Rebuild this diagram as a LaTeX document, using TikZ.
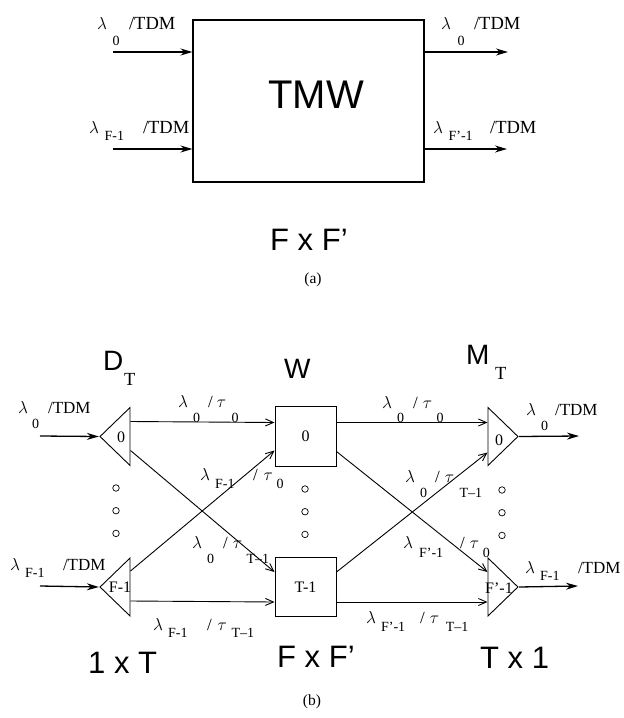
\documentclass[tikz,border=0pt]{standalone}
\usepackage{fontspec}
\setmainfont{Liberation Serif}
\newfontfamily\headfont{Liberation Sans}
\usetikzlibrary{arrows.meta,positioning,shapes.geometric}
\newcommand{\lam}{$\lambda$}
\newcommand{\slashtau}[1]{/\kern#1pt$\tau$}
\newcommand{\low}[2]{\raisebox{-#1pt}{\fontsize{14}{14}\selectfont #2}}

\begin{document}
\begin{tikzpicture}[
    x=1pt,
    y=-1pt,
    box/.style={
        rectangle,
        draw=black,
        line width=1pt,
        inner sep=0pt,
        minimum width=61pt,
        minimum height=59.5pt,
        font=\fontsize{16}{18}\selectfont
    },
    demux/.style={
        isosceles triangle,
        isosceles triangle stretches,
        shape border rotate=180,
        draw=black,
        line width=0.9pt,
        inner sep=0pt,
        minimum width=58pt,
        minimum height=30pt
    },
    mux/.style={
        demux,
        shape border rotate=0
    },
    port/.style={
        inner sep=0pt,
        font=\fontsize{16}{18}\selectfont
    },
    wltop/.style={
        anchor=base west,
        inner sep=0pt,
        font=\fontsize{18.5}{20}\selectfont
    },
    wl/.style={
        anchor=base west,
        inner sep=0pt,
        font=\fontsize{17}{20}\selectfont
    },
    heading/.style={
        anchor=base west,
        inner sep=0pt,
        font=\headfont\fontsize{28}{30}\selectfont
    },
    sizelabel/.style={
        anchor=base west,
        inner sep=0pt,
        font=\headfont\fontsize{31}{33}\selectfont
    },
    caption/.style={
        anchor=base,
        inner sep=0pt,
        font=\fontsize{15.5}{17}\selectfont
    },
    ringdot/.style={
        circle,
        draw=black,
        line width=0.7pt,
        inner sep=0pt,
        minimum size=6.5pt
    },
    fibre/.style={line width=1.3pt,-{Stealth[length=12pt,width=7pt]}},
    link/.style={line width=0.9pt,-{Straight Barb[length=8pt,width=7pt]}}
]
\useasboundingbox (0,0) rectangle (624,718);
% part (a)
\node (tmw) [rectangle, draw=black, line width=1.1pt, inner sep=0pt, minimum width=231pt, minimum height=162pt] at (308.5,101) {};
\node (tmwname) [anchor=base, inner sep=0pt, font=\headfont\fontsize{40}{42}\selectfont] at (316,108) {TMW};
\coordinate (ina) at (113,52);
\coordinate (inb) at (113,149);
\coordinate (outa) at (508,52);
\coordinate (outb) at (507,149);
\draw [fibre] (ina) -- (ina -| tmw.west);
\draw [fibre] (inb) -- (inb -| tmw.west);
\draw [fibre] (outa -| tmw.east) -- (outa);
\draw [fibre] (outb -| tmw.east) -- (outb);
\node (ina lab) [wltop] at (97,29) {\lam\kern5.5pt\low{16}{0}\kern9.5pt/TDM};
\node (inb lab) [wltop] at (89,133) {\lam\kern5.5pt\low{7}{F-1}\kern19pt/TDM};
\node (outa lab) [wltop] at (441,29) {\lam\kern6.5pt\low{16}{0}\kern9.5pt/TDM};
\node (outb lab) [wltop] at (433,133) {\lam\kern5.5pt\low{7}{F’-1}\kern17.5pt/TDM};
\node (asize) [sizelabel] at (270,250) {F x F’};
\node (acap) [caption] at (313,283) {(a)};
% part (b)
\node (w0) [box] at (305.5,436.5) {0};
\node (w1) [box, below=90pt of w0] {T-1};
\node (dt0) [demux, left=144pt of w0] {};
\node (dt1) [demux, left=144pt of w1] {};
\node (mt0) [mux, right=151pt of w0] {};
\node (mt1) [mux, right=151pt of w1] {};
\node (dt0name) [port] at (121,437) {0};
\node (dt1name) [port] at (120,587) {F-1};
\node (mt0name) [port] at (499,440) {0};
\node (mt1name) [port] at (499,588) {F’-1};
\coordinate (in0) at (40,436);
\coordinate (in1) at (40,586);
\coordinate (out0) at (579,436);
\coordinate (out1) at (578,586);
\draw [fibre] (in0) -- (dt0.apex);
\draw [fibre] (in1) -- (dt1.apex);
\draw [fibre] (mt0.apex) -- (out0);
\draw [fibre] (mt1.apex) -- (out1);
\draw [link] ([yshift=15pt]dt0.lower side) -- ([yshift=14pt]w0.west);
\draw [link] ([yshift=-14pt]dt0.lower side) -- ([yshift=15pt]w1.west);
\draw [link] ([yshift=16pt]dt1.lower side) -- ([yshift=-14pt]w0.west);
\draw [link] ([yshift=-14pt]dt1.lower side) -- ([yshift=-15pt]w1.west);
\draw [link] ([yshift=14pt]w0.east) -- ([yshift=14pt]mt0.lower side);
\draw [link] ([yshift=-15pt]w0.east) -- ([yshift=15pt]mt1.lower side);
\draw [link] ([yshift=15pt]w1.east) -- ([yshift=-16pt]mt0.lower side);
\draw [link] ([yshift=-15pt]w1.east) -- ([yshift=-15pt]mt1.lower side);
\foreach \col/\xpos/\ypos in {a/116/488,b/305/489,c/502/490} {
    \node (dot\col1) [ringdot] at (\xpos,\ypos) {};
    \node (dot\col2) [ringdot, below=15.5pt of dot\col1] {};
    \node (dot\col3) [ringdot, below=15.5pt of dot\col2] {};
}
\node (dname) [heading] at (103,370) {D};
\node (dsub) [wltop] at (124,385) {T};
\node (wname) [heading] at (284,378) {W};
\node (mname) [heading] at (466,364) {M};
\node (msub) [wltop] at (495,379) {T};
\node (in0lab) [wl] at (18,413) {\lam\kern4pt\low{15}{0}\kern9pt/TDM};
\node (in1lab) [wl] at (10,570) {\lam\kern5pt\low{7}{F-1}\kern18.5pt/TDM};
\node (labc) [wl] at (178,407) {\lam\kern5pt\low{15}{0}\kern8pt\slashtau{4}\kern5.6pt\low{15}{0}};
\node (labd) [wl] at (200,480) {\lam\kern5pt\low{8}{F-1}\kern18.5pt\slashtau{6}\kern3.6pt\low{8}{0}};
\node (labe) [wl] at (192,548) {\lam\kern5pt\low{15}{0}\kern9pt\slashtau{5}\kern4.6pt\low{15}{T--1}};
\node (labf) [wl] at (153,630) {\lam\kern5pt\low{7}{F-1}\kern19.5pt\slashtau{6}\kern4.6pt\low{7}{T--1}};
\node (labg) [wl] at (382,408) {\lam\kern5pt\low{14}{0}\kern9pt\slashtau{5}\kern4.6pt\low{14}{0}};
\node (labh) [wl] at (405,482) {\lam\kern5pt\low{15}{0}\kern8pt\slashtau{5}\kern5.6pt\low{15}{T--1}};
\node (labi) [wl] at (403,548) {\lam\kern6pt\low{9}{F’-1}\kern17pt\slashtau{5}\kern3.6pt\low{9}{0}};
\node (labj) [wl] at (366,623) {\lam\kern5pt\low{8}{F’-1}\kern15pt\slashtau{5}\kern6.6pt\low{8}{T--1}};
\node (out0lab) [wl] at (526,415) {\lam\kern5pt\low{15}{0}\kern7pt/TDM};
\node (out1lab) [wl] at (525,573) {\lam\kern5pt\low{7}{F-1}\kern18.5pt/TDM};
\node (bleft) [sizelabel] at (88,673) {1 x T};
\node (bmid) [sizelabel] at (277,667) {F x F’};
\node (bright) [sizelabel] at (480,668) {T x 1};
\node (bcap) [caption] at (312,705) {(b)};
\end{tikzpicture}
\end{document}
